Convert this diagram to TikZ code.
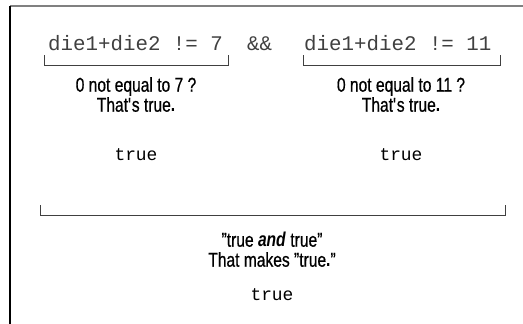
\documentclass[tikz,border=0pt]{standalone}
\usepackage{fontspec}
\setmainfont{Liberation Sans}[FakeStretch=0.78,UprightFeatures={FakeBold=0.6}]
\setmonofont{Liberation Mono}
\usetikzlibrary{positioning}

\begin{document}
\begin{tikzpicture}[x=1pt,y=-1pt,
code/.style={font=\ttfamily\fontsize{20.8}{24}\selectfont,inner sep=0pt,anchor=base west,text=black!75},
note/.style={font=\fontsize{20}{20}\selectfont,align=center,inner sep=0pt,anchor=north},
result/.style={font=\ttfamily\fontsize{17.9}{20}\selectfont,inner sep=0pt,anchor=base},
brace/.style={line width=0.8pt,black!75}
]
\useasboundingbox (0,0) rectangle (523,324);
% frame
\draw[line width=2pt,black!50] (10,6) -- (523,6);
\draw[line width=1.5pt] (10,6) -- (10,324);

% expression
\node[code] (lhs) at (48,50) {die1+die2 != 7};
\node[code] (and) at (247,50) {\&\&};
\node[code] (rhs) at (304,50) {die1+die2 != 11};

% brackets
\foreach \n/\a/\b/\y in {lb/44/228/65,rb/303/500/65,all/40/505/215}{
  \coordinate (\n-w) at (\a,\y);
  \coordinate (\n-e) at (\b,\y);
  \draw[brace] ([yshift=10pt]\n-w) -- (\n-w) -- (\n-e) -- ([yshift=10pt]\n-e);
}

\node[note] (lnote) at (136,77) {0 not equal to 7 ?\\That\textquotesingle s true\textbf{.}};
\node[note] (rnote) at (401,77) {0 not equal to 11 ?\\That\textquotesingle s true\textbf{.}};
\node[result] (lres) at (136,160) {true};
\node[result] (rres) at (401,160) {true};

\node[note] (both) at (272,232) {"true \textbf{\textit{and}} true"\\That makes "true\textbf{.}"};
\node[result] (res) at (272,300) {true};
\end{tikzpicture}
\end{document}
